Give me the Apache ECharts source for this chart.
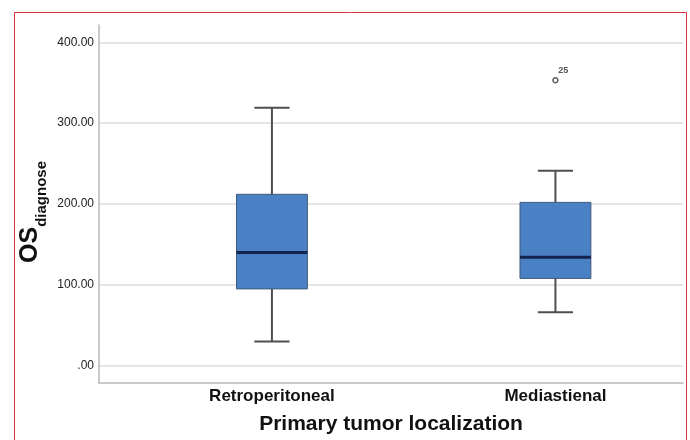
<!DOCTYPE html>
<html>
<head>
<meta charset="utf-8">
<script src="https://cdn.jsdelivr.net/npm/echarts@6/dist/echarts.min.js"></script>
<style>
  html, body { margin: 0; padding: 0; background: #ffffff; }
  #chart { width: 690px; height: 440px; }
</style>
</head>
<body>
<div id="chart"></div>
<script>
// Overall survival since diagnosis, by primary tumor site
const categories = ['Retroperitoneal', 'Mediastienal'];
const whiskerLow = [30, 66];
const quartile1 = [95, 108];
const median = [140, 134];
const quartile3 = [212, 202];
const whiskerHigh = [319, 241];

// Outlying cases: category index, value, case number
const outlierCategory = [1];
const outlierValue = [353];
const outlierCase = ['25'];

const yTickValues = [0, 100, 200, 300, 400];
const yTickLabels = ['.00', '100.00', '200.00', '300.00', '400.00'];

const FONT = '"Liberation Sans", Arial, Helvetica, sans-serif';

const boxData = categories.map((c, i) => [
  i, whiskerLow[i], quartile1[i], median[i], quartile3[i], whiskerHigh[i]
]);
const outlierData = outlierCategory.map((c, i) => [c, outlierValue[i], outlierCase[i]]);

const chart = echarts.init(document.getElementById('chart'), null, { renderer: 'canvas' });

chart.setOption({
  backgroundColor: '#ffffff',
  animation: false,
  graphic: [{
    type: 'rect',
    shape: { x: 14.5, y: 12.5, width: 672, height: 440 },
    style: { fill: 'none', stroke: '#d8323c', lineWidth: 1 },
    silent: true,
    z: 100
  }],
  grid: { left: 99, right: 7, top: 25, bottom: 57, containLabel: false },
  xAxis: {
    type: 'value',
    min: -0.61,
    max: 1.45,
    axisLine: { show: true, onZero: false, lineStyle: { color: '#b8b8b8', width: 1.5 } },
    axisTick: { show: false },
    splitLine: { show: false },
    axisLabel: {
      customValues: categories.map((c, i) => i),
      formatter: v => categories[Math.round(v)],
      fontFamily: FONT,
      fontSize: 17,
      fontWeight: 'bold',
      color: '#111111',
      margin: 5
    },
    name: 'Primary tumor localization',
    nameLocation: 'middle',
    nameGap: 31,
    nameMoveOverlap: false,
    nameTextStyle: { fontFamily: FONT, fontSize: 21, fontWeight: 'bold', color: '#111111' }
  },
  yAxis: {
    type: 'value',
    min: -21.4,
    max: 421.4,
    axisLine: { show: true, onZero: false, lineStyle: { color: '#b8b8b8', width: 1.5 } },
    axisTick: { show: false, customValues: yTickValues },
    splitLine: { show: true, lineStyle: { color: '#dcdcdc', width: 1.5 } },
    axisLabel: {
      customValues: yTickValues,
      formatter: v => yTickLabels[yTickValues.indexOf(v)],
      fontFamily: FONT,
      fontSize: 12,
      color: '#222222',
      margin: 5
    },
    name: '{os|OS}{sub|diagnose}',
    nameLocation: 'middle',
    nameGap: 50,
    nameMoveOverlap: false,
    nameTextStyle: {
      fontFamily: FONT,
      fontWeight: 'bold',
      color: '#111111',
      rich: {
        os: { fontFamily: FONT, fontSize: 25, fontWeight: 'bold', color: '#111111', verticalAlign: 'bottom', padding: [0, 0, 6, 0] },
        sub: { fontFamily: FONT, fontSize: 15, fontWeight: 'bold', color: '#111111', verticalAlign: 'bottom', padding: [0, 16, 0, 0] }
      }
    }
  },
  series: [
    {
      type: 'custom',
      data: boxData,
      encode: { x: 0, y: [1, 2, 3, 4, 5] },
      renderItem: function (params, api) {
        const x = api.value(0);
        const pLo = api.coord([x, api.value(1)]);
        const pQ1 = api.coord([x, api.value(2)]);
        const pMed = api.coord([x, api.value(3)]);
        const pQ3 = api.coord([x, api.value(4)]);
        const pHi = api.coord([x, api.value(5)]);
        const unit = api.size([1, 0])[0];
        const halfBox = unit * 0.125;
        const halfCap = unit * 0.062;
        const cx = pMed[0];
        const whisker = { stroke: '#4f4f4f', lineWidth: 2 };
        return {
          type: 'group',
          children: [
            { type: 'line', shape: { x1: cx, y1: pHi[1], x2: cx, y2: pQ3[1] }, style: whisker },
            { type: 'line', shape: { x1: cx, y1: pQ1[1], x2: cx, y2: pLo[1] }, style: whisker },
            { type: 'line', shape: { x1: cx - halfCap, y1: pHi[1], x2: cx + halfCap, y2: pHi[1] }, style: whisker },
            { type: 'line', shape: { x1: cx - halfCap, y1: pLo[1], x2: cx + halfCap, y2: pLo[1] }, style: whisker },
            {
              type: 'rect',
              shape: { x: cx - halfBox, y: pQ3[1], width: halfBox * 2, height: pQ1[1] - pQ3[1] },
              style: { fill: '#4a80c4', stroke: '#40597a', lineWidth: 1 }
            },
            {
              type: 'line',
              shape: { x1: cx - halfBox, y1: pMed[1], x2: cx + halfBox, y2: pMed[1] },
              style: { stroke: '#14234d', lineWidth: 3 }
            }
          ]
        };
      }
    },
    {
      type: 'scatter',
      data: outlierData,
      symbol: 'circle',
      symbolSize: 5,
      itemStyle: { color: '#ffffff', borderColor: '#606060', borderWidth: 1.5, opacity: 1 },
      label: {
        show: true,
        formatter: p => p.value[2],
        position: [6, -11],
        fontFamily: FONT,
        fontSize: 9,
        fontWeight: 'bold',
        color: '#555555'
      }
    }
  ]
});
</script>
</body>
</html>
